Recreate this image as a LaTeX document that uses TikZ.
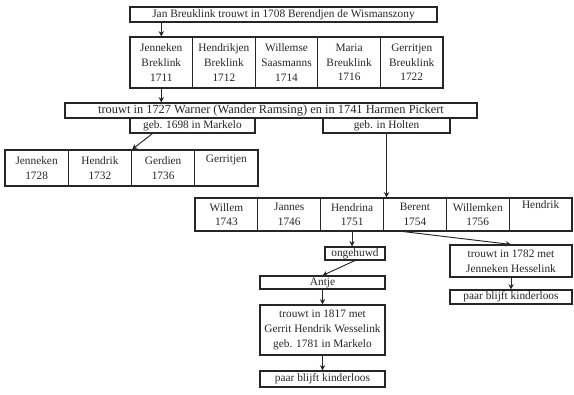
\documentclass[tikz,border=0pt]{standalone}
\usepackage{fontspec}
\setmainfont{Liberation Serif}
\usetikzlibrary{arrows.meta}
\begin{document}
\begin{tikzpicture}[x=0.75pt,y=-0.75pt,
  box/.style={draw=black!85,line width=0.8pt,inner sep=0pt,align=center,
    font=\fontsize{8.5}{11}\selectfont,text=black!85},
  cellA/.style={box,minimum width=46.95pt,minimum height=38.25pt},
  cellB/.style={box,minimum width=47.44pt,minimum height=27pt},
  cellC/.style={box,minimum width=47.13pt,minimum height=24.75pt},
  arr/.style={draw=black!85,line width=0.7pt,-{Stealth[length=4pt,width=4pt]}},
  ln/.style={draw=black!85,line width=0.7pt}]
\useasboundingbox (0,0) rectangle (574,395);
% top
\node[box,minimum width=230.25pt,minimum height=11.25pt] (top) at (283.5,14.5)
  {Jan Breuklink trouwt in 1708 Berendjen de Wismanszony};
% row 2
\node[cellA] (c11) at (161.3,62.5) {Jenneken\\Breklink\\1711};
\node[cellA] (c12) at (223.9,62.5) {Hendrikjen\\Breklink\\1712};
\node[cellA] (c13) at (286.5,62.5) {Willemse\\Saasmanns\\1714};
\node[cellA] (c14) at (349.1,62.5) {Maria\\Breuklink\\1716};
\node[cellA] (c15) at (411.7,62.5) {Gerritjen\\Breuklink\\1722};
% row 3
\node[box,minimum width=309pt,minimum height=11.25pt,font=\fontsize{9.3}{11}\selectfont] (r3) at (271,110.5)
  {trouwt in 1727 Warner (Wander Ramsing) en in 1741 Harmen Pickert};
\node[box,minimum width=93.75pt,minimum height=11.25pt] (s1) at (192.5,125.5) {geb. 1698 in Markelo};
\node[box,minimum width=95.25pt,minimum height=11.25pt] (s2) at (386.5,125.5) {geb. in Holten};
% row 4
\node[cellB] (c41) at (36.6,168) {Jenneken\\1728};
\node[cellB] (c42) at (99.9,168) {Hendrik\\1732};
\node[cellB] (c43) at (163.1,168) {Gerdien\\1736};
\node[cellB] (c44) at (226.4,168) {Gerritjen\\\strut};
% row 5
\node[cellC] (c51) at (226.4,214.5) {Willem\\1743};
\node[cellC] (c52) at (289.2,214.5) {Jannes\\1746};
\node[cellC] (c53) at (352.1,214.5) {Hendrina\\1751};
\node[cellC] (c54) at (414.9,214.5) {Berent\\1754};
\node[cellC] (c55) at (477.7,214.5) {Willemken\\1756};
\node[cellC] (c56) at (540.6,214.5) {Hendrik\\\strut};
% lower left branch
\node[box,minimum width=45pt,minimum height=9.75pt] (ong) at (355,253.5) {ongehuwd};
\node[box,minimum width=93.75pt,minimum height=9.75pt] (antje) at (322.5,282.5) {Antje};
\node[box,minimum width=93.75pt,minimum height=37.5pt] (t1817) at (322.5,330)
  {trouwt in 1817 met\\Gerrit Hendrik Wesselink\\geb. 1781 in Markelo};
\node[box,minimum width=93.75pt,minimum height=12pt] (kl1) at (322.5,379) {paar blijft kinderloos};
% lower right branch
\node[box,minimum width=91.5pt,minimum height=24pt] (t1782) at (511,261)
  {trouwt in 1782 met\\Jenneken Hesselink};
\node[box,minimum width=91.5pt,minimum height=10.5pt] (kl2) at (511,297) {paar blijft kinderloos};
% connectors
\draw[arr] (c11.north |- top.south) -- (c11.north);
\draw[arr] (c11.south) -- (c11.south |- r3.north);
\draw[arr] ([xshift=-30pt]s1.south) -- (c42.north east);
\draw[arr] (s2.south) -- (s2.south |- c54.north);
\draw[arr] (c53.south) -- (c53.south |- ong.north);
\draw[arr] ([xshift=-9pt]c54.south) -- (t1782.north);
\draw[arr] (ong.south) -- (antje.north);
\draw[arr] (antje.south) -- (t1817.north);
\draw[arr] (t1817.south) -- (kl1.north);
\draw[arr] (t1782.south) -- (kl2.north);
\end{tikzpicture}
\end{document}
